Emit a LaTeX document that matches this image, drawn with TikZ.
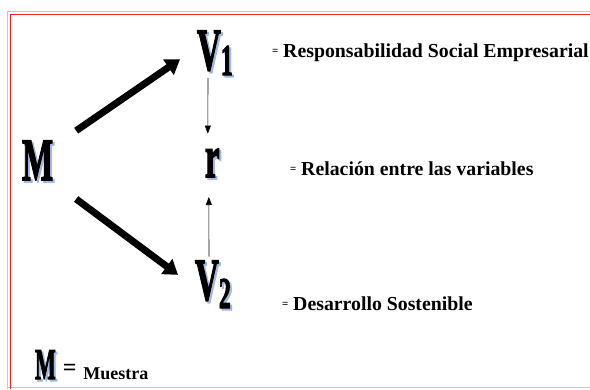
\documentclass[tikz,border=0pt]{standalone}
\usepackage{fontspec}
\setmainfont{Liberation Serif}
\newfontfamily\bigfont{Liberation Serif Bold}[FakeBold=2.5]
\usetikzlibrary{arrows.meta}
\definecolor{shb}{RGB}{160,185,225}
\definecolor{redb}{RGB}{228,40,40}
\definecolor{frameg}{RGB}{200,200,200}
\newcommand\Sh[1]{\rlap{\kern2pt\raisebox{-2pt}{\color{shb}#1}}#1}
\newcommand\BigG[3]{\scalebox{#1}[1]{\fontsize{#2}{#2}\bigfont #3}}
\tikzset{
  bigtxt/.style={inner sep=0pt, outer sep=0pt},
  lbl/.style={inner sep=0pt, outer sep=0pt, font=\bfseries},
  thickarr/.style={line width=7pt, -{Triangle[length=14pt,width=18pt]}},
  thinarr/.style={line width=0.6pt, -{Triangle[length=8pt,width=6pt]}}
}
\begin{document}
\begin{tikzpicture}[x=1pt,y=-1pt]
\useasboundingbox (0,0) rectangle (590,389);
% frame
\draw[frameg, line width=0.8pt] (7,389) -- (7,11) -- (590,11);
\draw[frameg, line width=0.8pt] (7,387.5) -- (590,387.5);
\draw[redb, line width=1.6pt] (10.5,389) -- (10.5,14.5) -- (590,14.5);
% big letters
\node[bigtxt, anchor=base west] (M) at (22,180) {\Sh{\BigG{0.55}{60}{M}}};
\node[bigtxt, anchor=base west] (V1) at (197,70) {\Sh{\BigG{0.55}{60}{V\raisebox{-5pt}{\fontsize{44}{44}\bigfont 1}}}};
\node[bigtxt, anchor=base west] (r) at (205,177) {\Sh{\BigG{0.55}{60}{r}}};
\node[bigtxt, anchor=base west] (V2) at (195,300) {\Sh{\BigG{0.55}{60}{V\raisebox{-8pt}{\fontsize{44}{44}\bigfont 2}}}};
% labels
\node[lbl, anchor=base west] (l1) at (272,57) {\fontsize{19.8}{20}\selectfont{\fontsize{11}{11}\selectfont\raisebox{2.5pt}{=}} Responsabilidad Social Empresarial};
\node[lbl, anchor=base west] (l2) at (290,175) {\fontsize{19.8}{20}\selectfont{\fontsize{11}{11}\selectfont\raisebox{2.5pt}{=}} Relación entre las variables};
\node[lbl, anchor=base west] (l3) at (282,310) {\fontsize{19.8}{20}\selectfont{\fontsize{11}{11}\selectfont\raisebox{2.5pt}{=}} Desarrollo Sostenible};
\node[lbl, anchor=base west] (leg) at (35,379) {\Sh{\BigG{0.5}{44}{M}}\hspace{7pt}{\fontsize{24}{24}\selectfont\raisebox{4pt}{=}}\hspace{7pt}{\fontsize{18}{18}\selectfont Muestra}};
% arrows
\draw[thickarr] ([shift={(23,-10)}]M.north east) -- ([shift={(-17,5.5)}]V1.west);
\draw[thickarr] ([shift={(23,17)}]M.south east) -- ([shift={(-17,-10.5)}]V2.west);
\draw[thinarr] ([shift={(11,1)}]V1.south west) -- ([shift={(-4.5,-15)}]r.north);
\draw[thinarr] ([shift={(14,-4)}]V2.north west) -- ([shift={(-3.5,18)}]r.south);
\end{tikzpicture}
\end{document}
